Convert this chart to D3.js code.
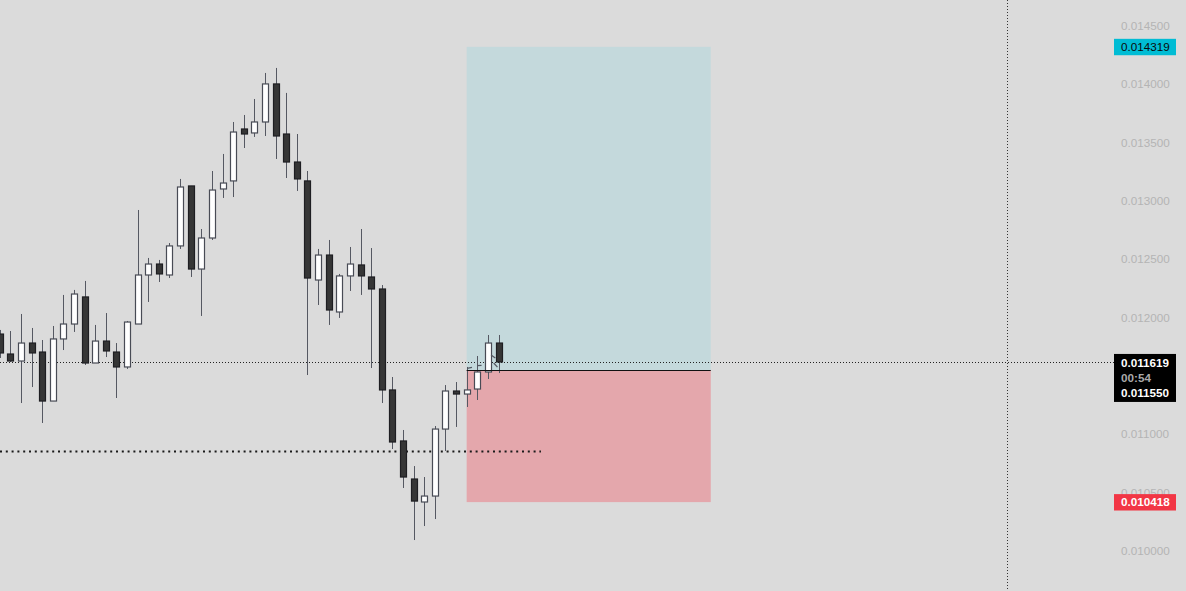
<!DOCTYPE html>
<html><head><meta charset="utf-8">
<script src="https://cdn.jsdelivr.net/npm/d3@7"></script>
<style>
html,body{margin:0;padding:0;background:#dbdbdb;}
svg{display:block;}
text{font-family:"Liberation Sans",Arial,sans-serif;}
</style></head>
<body><svg id="c" width="1186" height="591"></svg>
<script>
// ---- data (bar index -1 .. 46) ----
const barIndex = [-1,0,1,2,3,4,5,6,7,8,9,10,11,12,13,14,15,16,17,18,19,20,21,22,23,24,25,26,27,28,29,30,31,32,33,34,35,36,37,38,39,40,41,42,43,44,45,46];
const opens  = [0.011858,0.011687,0.011627,0.011781,0.011704,0.011284,0.011816,0.011944,0.012176,0.011610,0.011798,0.011704,0.011576,0.011944,0.012364,0.012458,0.012364,0.012613,0.013127,0.012415,0.012681,0.013101,0.013170,0.013615,0.013581,0.013675,0.014001,0.013572,0.013332,0.013170,0.012321,0.012535,0.012047,0.012356,0.012450,0.012347,0.012244,0.011379,0.010942,0.010616,0.010419,0.010470,0.011044,0.011370,0.011344,0.011387,0.011533,0.011781];
const highs  = [0.011893,0.011884,0.012030,0.011910,0.011807,0.011927,0.012193,0.012236,0.012313,0.011936,0.012038,0.011781,0.011970,0.012921,0.012510,0.012493,0.012638,0.013187,0.013127,0.012758,0.013255,0.013401,0.013675,0.013735,0.013872,0.014095,0.014138,0.013924,0.013572,0.013255,0.012587,0.012664,0.012373,0.012604,0.012758,0.012595,0.012278,0.011490,0.011036,0.010727,0.010633,0.011070,0.011421,0.011447,0.011576,0.011670,0.011850,0.011850];
const lows   = [0.011653,0.011619,0.011267,0.011404,0.011096,0.011284,0.011721,0.011876,0.011593,0.011610,0.011661,0.011310,0.011559,0.011944,0.012133,0.012304,0.012338,0.012587,0.012347,0.012013,0.012664,0.013024,0.013032,0.013452,0.013547,0.013555,0.013358,0.013195,0.013084,0.011507,0.012107,0.011936,0.011996,0.012227,0.012193,0.011567,0.011267,0.010873,0.010539,0.010093,0.010213,0.010273,0.010856,0.011062,0.011233,0.011293,0.011473,0.011524];
const closes = [0.011696,0.011627,0.011781,0.011696,0.011284,0.011816,0.011944,0.012201,0.011610,0.011798,0.011713,0.011576,0.011961,0.012364,0.012458,0.012373,0.012613,0.013118,0.012415,0.012681,0.013092,0.013152,0.013589,0.013572,0.013675,0.014001,0.013555,0.013332,0.013187,0.012338,0.012535,0.012064,0.012356,0.012458,0.012356,0.012244,0.011379,0.010933,0.010633,0.010427,0.010470,0.011044,0.011370,0.011344,0.011379,0.011533,0.011781,0.011619];

// 0.011500 is hidden behind the last-price label in the reference
const priceTicks = [0.0100,0.0105,0.0110,0.0120,0.0125,0.0130,0.0135,0.0140,0.0145];
const positionStart = 43, positionEnd = 66;
const targetPrice = 0.014319, entryPrice = 0.011550, stopPrice = 0.010418;
const lastPrice = 0.011619, countdown = "00:54";
const levelPrice = 0.010853, levelEndIndex = 50;
const crosshairIndex = 93.9;

// ---- scales ----
const W = 1186, H = 591;
const x = d3.scaleLinear().domain([0, 46]).range([10.3, 498.5]);
const y = d3.scaleLinear().domain([0.0100, 0.0145]).range([550.9, 25.7]);
const axisX = 1114;

const svg = d3.select("#c");
svg.append("rect").attr("width", W).attr("height", H).attr("fill", "#dbdbdb");

// position tool
const xs = x(positionStart), xe = x(positionEnd);
svg.append("rect").attr("x", xs).attr("y", y(targetPrice)).attr("width", xe - xs)
   .attr("height", y(entryPrice) - y(targetPrice)).attr("fill", "#c4d9dc");
svg.append("rect").attr("x", xs).attr("y", y(entryPrice)).attr("width", xe - xs)
   .attr("height", y(stopPrice) - y(entryPrice)).attr("fill", "#e4a7ac");

// level dotted line
svg.append("line").attr("x1", 0).attr("x2", x(levelEndIndex))
   .attr("y1", Math.round(y(levelPrice)) + 0.5).attr("y2", Math.round(y(levelPrice)) + 0.5)
   .attr("stroke", "#1a1a1a").attr("stroke-width", 2).attr("stroke-dasharray", "2,3.8");

// crosshair vertical
svg.append("line").attr("x1", Math.round(x(crosshairIndex)) + 0.5).attr("x2", Math.round(x(crosshairIndex)) + 0.5)
   .attr("y1", 0).attr("y2", H).attr("stroke", "#333").attr("stroke-width", 1).attr("stroke-dasharray", "1,2");

// last price line
svg.append("line").attr("x1", 0).attr("x2", axisX)
   .attr("y1", Math.round(y(lastPrice)) + 0.5).attr("y2", Math.round(y(lastPrice)) + 0.5)
   .attr("stroke", "#222").attr("stroke-width", 1).attr("stroke-dasharray", "1,2");

// candles
const candles = barIndex.map((b, i) => ({b, o: opens[i], h: highs[i], l: lows[i], c: closes[i]}));
const g = svg.append("g");
g.selectAll("line.wick").data(candles).join("line").attr("class", "wick")
  .attr("x1", d => Math.round(x(d.b)) + 0.5).attr("x2", d => Math.round(x(d.b)) + 0.5)
  .attr("y1", d => y(d.h)).attr("y2", d => y(d.l))
  .attr("stroke", "#555862").attr("stroke-width", 1);
g.selectAll("rect.body").data(candles).join("rect").attr("class", "body")
  .attr("x", d => Math.round(x(d.b)) - 2.5).attr("width", 6)
  .attr("y", d => y(Math.max(d.o, d.c)))
  .attr("height", d => Math.max(1, Math.abs(y(d.o) - y(d.c))))
  .attr("fill", d => d.c >= d.o ? "#ffffff" : "#363636")
  .attr("stroke", d => d.c >= d.o ? "#484b55" : "#1e1e22")
  .attr("stroke-width", 1.2);

// entry line
svg.append("line").attr("x1", xs).attr("x2", xe)
   .attr("y1", Math.round(y(entryPrice)) + 0.5).attr("y2", Math.round(y(entryPrice)) + 0.5)
   .attr("stroke", "#111").attr("stroke-width", 1);

// small tool marks near entry
const marks = [[43.05, 43.5, 0.011563, 0.011573],[44.0, 44.4, 0.011587, 0.011590],[45.3, 45.7, 0.011678, 0.011652],[45.55, 45.9, 0.011610, 0.011575]];
svg.append("g").selectAll("line").data(marks).join("line")
  .attr("x1", d => x(d[0])).attr("x2", d => x(d[1])).attr("y1", d => y(d[2])).attr("y2", d => y(d[3]))
  .attr("stroke", "#555862").attr("stroke-width", 1.3);

// price axis tick labels
svg.append("g").selectAll("text").data(priceTicks).join("text")
  .attr("x", 1121).attr("y", d => y(d)).attr("dy", "0.36em")
  .attr("font-size", 11.7).attr("fill", "#b4b4b4")
  .text(d => d.toFixed(6));

// labels
function label(yTop, h, fill) {
  svg.append("rect").attr("x", axisX).attr("y", yTop).attr("width", 62).attr("height", h).attr("fill", fill);
}
function ltext(yc, txt, col, weight) {
  svg.append("text").attr("x", 1121).attr("y", yc).attr("dy", "0.36em")
    .attr("font-size", 11.7).attr("fill", col).attr("font-weight", weight || "normal").text(txt);
}
label(y(targetPrice) - 8, 16.4, "#00bcd4");
ltext(y(targetPrice), targetPrice.toFixed(6), "#0a0a0a");

label(y(lastPrice) - 8, 48, "#000000");
ltext(y(lastPrice) + 0.5, lastPrice.toFixed(6), "#ffffff", "bold");
ltext(y(lastPrice) + 15.5, countdown, "#a9a9a9", "bold");
ltext(y(lastPrice) + 31, entryPrice.toFixed(6), "#ffffff", "bold");

label(y(stopPrice) - 8, 16.4, "#f23645");
ltext(y(stopPrice), stopPrice.toFixed(6), "#ffffff", "bold");
</script></body></html>
